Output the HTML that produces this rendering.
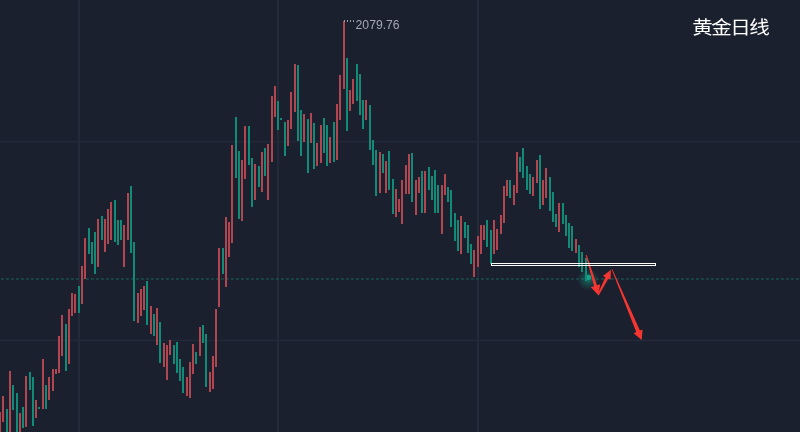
<!DOCTYPE html>
<html><head><meta charset="utf-8"><style>
html,body{margin:0;padding:0;background:#1b202f;}
body{width:800px;height:432px;overflow:hidden;position:relative;}
svg{position:absolute;left:0;top:0;}
.c{position:absolute;top:13px;width:19px;text-align:center;font-family:"Liberation Sans","Noto Sans CJK SC",sans-serif;font-size:18px;color:#ffffff;white-space:nowrap;transform:scaleX(1.14);transform-origin:50% 50%;}
</style></head><body>
<svg width="800" height="432" viewBox="0 0 800 432">
<defs><radialGradient id="glow"><stop offset="0" stop-color="#16a589" stop-opacity="0.6"/><stop offset="0.5" stop-color="#13967c" stop-opacity="0.28"/><stop offset="1" stop-color="#13967c" stop-opacity="0"/></radialGradient></defs>
<rect x="0" y="0" width="800" height="432" fill="#1b202f"/>
<g fill="#222a39">
<rect x="78" y="0" width="2" height="432"/>
<rect x="277" y="0" width="2" height="432"/>
<rect x="477" y="0" width="2" height="432"/>
<rect x="0" y="140.9" width="800" height="1.5"/>
<rect x="0" y="339.6" width="800" height="1.6"/>
</g>
<line x1="-4" y1="279" x2="800" y2="279" stroke="#18504b" stroke-width="1.6" stroke-dasharray="2.8 2.2"/>
<g shape-rendering="crispEdges">
<rect x="-1" y="412" width="2" height="21" fill="#b0464f"/>
<rect x="2" y="396" width="2" height="26" fill="#b0464f"/>
<rect x="6" y="409" width="2" height="24" fill="#118a77"/>
<rect x="9" y="371" width="2" height="62" fill="#b0464f"/>
<rect x="12" y="385" width="2" height="25" fill="#118a77"/>
<rect x="16" y="393" width="2" height="40" fill="#118a77"/>
<rect x="19" y="413" width="2" height="20" fill="#b0464f"/>
<rect x="22" y="407" width="2" height="21" fill="#118a77"/>
<rect x="25" y="376" width="2" height="51" fill="#b0464f"/>
<rect x="29" y="372" width="2" height="18" fill="#118a77"/>
<rect x="32" y="377" width="2" height="49" fill="#118a77"/>
<rect x="35" y="400" width="2" height="18" fill="#b0464f"/>
<rect x="38" y="407" width="2" height="2" fill="#118a77"/>
<rect x="42" y="359" width="2" height="50" fill="#b0464f"/>
<rect x="45" y="385" width="2" height="24" fill="#118a77"/>
<rect x="48" y="377" width="2" height="23" fill="#b0464f"/>
<rect x="52" y="369" width="2" height="22" fill="#b0464f"/>
<rect x="55" y="369" width="2" height="5" fill="#b0464f"/>
<rect x="58" y="336" width="2" height="37" fill="#b0464f"/>
<rect x="61" y="315" width="2" height="41" fill="#b0464f"/>
<rect x="65" y="324" width="2" height="47" fill="#118a77"/>
<rect x="68" y="309" width="2" height="55" fill="#b0464f"/>
<rect x="71" y="293" width="2" height="23" fill="#b0464f"/>
<rect x="74" y="294" width="2" height="19" fill="#b0464f"/>
<rect x="78" y="286" width="2" height="27" fill="#118a77"/>
<rect x="81" y="266" width="2" height="38" fill="#b0464f"/>
<rect x="84" y="238" width="2" height="41" fill="#b0464f"/>
<rect x="88" y="228" width="2" height="26" fill="#118a77"/>
<rect x="91" y="242" width="2" height="22" fill="#118a77"/>
<rect x="94" y="232" width="2" height="42" fill="#118a77"/>
<rect x="97" y="219" width="2" height="48" fill="#b0464f"/>
<rect x="101" y="216" width="2" height="24" fill="#118a77"/>
<rect x="104" y="219" width="2" height="33" fill="#b0464f"/>
<rect x="107" y="209" width="2" height="35" fill="#b0464f"/>
<rect x="110" y="202" width="2" height="38" fill="#b0464f"/>
<rect x="114" y="200" width="2" height="42" fill="#118a77"/>
<rect x="117" y="220" width="2" height="25" fill="#118a77"/>
<rect x="120" y="220" width="2" height="20" fill="#118a77"/>
<rect x="123" y="225" width="2" height="42" fill="#b0464f"/>
<rect x="127" y="193" width="2" height="47" fill="#b0464f"/>
<rect x="130" y="186" width="2" height="67" fill="#118a77"/>
<rect x="133" y="242" width="2" height="79" fill="#118a77"/>
<rect x="137" y="293" width="2" height="30" fill="#b0464f"/>
<rect x="140" y="289" width="2" height="27" fill="#b0464f"/>
<rect x="143" y="286" width="2" height="24" fill="#b0464f"/>
<rect x="146" y="281" width="2" height="44" fill="#118a77"/>
<rect x="150" y="306" width="2" height="28" fill="#b0464f"/>
<rect x="153" y="314" width="2" height="22" fill="#118a77"/>
<rect x="156" y="308" width="2" height="37" fill="#b0464f"/>
<rect x="159" y="322" width="2" height="41" fill="#118a77"/>
<rect x="163" y="343" width="2" height="24" fill="#b0464f"/>
<rect x="166" y="345" width="2" height="35" fill="#b0464f"/>
<rect x="169" y="340" width="2" height="15" fill="#b0464f"/>
<rect x="173" y="345" width="2" height="19" fill="#118a77"/>
<rect x="176" y="342" width="2" height="31" fill="#118a77"/>
<rect x="179" y="359" width="2" height="22" fill="#118a77"/>
<rect x="182" y="367" width="2" height="26" fill="#118a77"/>
<rect x="186" y="377" width="2" height="19" fill="#b0464f"/>
<rect x="189" y="362" width="2" height="36" fill="#b0464f"/>
<rect x="192" y="344" width="2" height="30" fill="#b0464f"/>
<rect x="195" y="352" width="2" height="12" fill="#118a77"/>
<rect x="199" y="327" width="2" height="29" fill="#b0464f"/>
<rect x="202" y="325" width="2" height="18" fill="#118a77"/>
<rect x="205" y="334" width="2" height="53" fill="#118a77"/>
<rect x="209" y="372" width="2" height="20" fill="#b0464f"/>
<rect x="212" y="356" width="2" height="33" fill="#b0464f"/>
<rect x="215" y="309" width="2" height="58" fill="#b0464f"/>
<rect x="218" y="248" width="2" height="59" fill="#b0464f"/>
<rect x="222" y="248" width="2" height="26" fill="#118a77"/>
<rect x="225" y="217" width="2" height="70" fill="#b0464f"/>
<rect x="228" y="222" width="2" height="35" fill="#b0464f"/>
<rect x="231" y="145" width="2" height="98" fill="#b0464f"/>
<rect x="235" y="117" width="2" height="61" fill="#118a77"/>
<rect x="238" y="151" width="2" height="68" fill="#118a77"/>
<rect x="241" y="160" width="2" height="61" fill="#b0464f"/>
<rect x="244" y="126" width="2" height="53" fill="#b0464f"/>
<rect x="248" y="126" width="2" height="39" fill="#118a77"/>
<rect x="251" y="158" width="2" height="49" fill="#118a77"/>
<rect x="254" y="164" width="2" height="36" fill="#b0464f"/>
<rect x="258" y="166" width="2" height="21" fill="#118a77"/>
<rect x="261" y="152" width="2" height="40" fill="#b0464f"/>
<rect x="264" y="148" width="2" height="28" fill="#118a77"/>
<rect x="267" y="144" width="2" height="56" fill="#b0464f"/>
<rect x="271" y="96" width="2" height="66" fill="#b0464f"/>
<rect x="274" y="86" width="2" height="31" fill="#b0464f"/>
<rect x="277" y="101" width="2" height="29" fill="#118a77"/>
<rect x="280" y="118" width="2" height="2" fill="#118a77"/>
<rect x="284" y="122" width="2" height="34" fill="#118a77"/>
<rect x="287" y="120" width="2" height="26" fill="#b0464f"/>
<rect x="290" y="92" width="2" height="37" fill="#b0464f"/>
<rect x="294" y="64" width="2" height="48" fill="#b0464f"/>
<rect x="297" y="65" width="2" height="76" fill="#118a77"/>
<rect x="300" y="110" width="2" height="46" fill="#118a77"/>
<rect x="303" y="114" width="2" height="28" fill="#b0464f"/>
<rect x="307" y="119" width="2" height="54" fill="#118a77"/>
<rect x="310" y="113" width="2" height="30" fill="#b0464f"/>
<rect x="313" y="123" width="2" height="46" fill="#118a77"/>
<rect x="316" y="143" width="2" height="23" fill="#b0464f"/>
<rect x="320" y="125" width="2" height="38" fill="#b0464f"/>
<rect x="323" y="118" width="2" height="35" fill="#118a77"/>
<rect x="326" y="125" width="2" height="41" fill="#118a77"/>
<rect x="329" y="137" width="2" height="26" fill="#b0464f"/>
<rect x="333" y="122" width="2" height="40" fill="#118a77"/>
<rect x="336" y="104" width="2" height="56" fill="#b0464f"/>
<rect x="339" y="75" width="2" height="45" fill="#b0464f"/>
<rect x="343" y="21" width="2" height="68" fill="#b0464f"/>
<rect x="346" y="58" width="2" height="73" fill="#118a77"/>
<rect x="349" y="90" width="2" height="21" fill="#b0464f"/>
<rect x="352" y="79" width="2" height="25" fill="#b0464f"/>
<rect x="356" y="64" width="2" height="37" fill="#118a77"/>
<rect x="359" y="74" width="2" height="41" fill="#118a77"/>
<rect x="362" y="100" width="2" height="29" fill="#118a77"/>
<rect x="365" y="100" width="2" height="20" fill="#b0464f"/>
<rect x="369" y="105" width="2" height="45" fill="#118a77"/>
<rect x="372" y="140" width="2" height="25" fill="#118a77"/>
<rect x="375" y="150" width="2" height="46" fill="#118a77"/>
<rect x="379" y="152" width="2" height="41" fill="#b0464f"/>
<rect x="382" y="154" width="2" height="19" fill="#118a77"/>
<rect x="385" y="161" width="2" height="32" fill="#b0464f"/>
<rect x="388" y="151" width="2" height="39" fill="#118a77"/>
<rect x="392" y="179" width="2" height="35" fill="#118a77"/>
<rect x="395" y="189" width="2" height="28" fill="#b0464f"/>
<rect x="398" y="199" width="2" height="13" fill="#b0464f"/>
<rect x="401" y="180" width="2" height="44" fill="#b0464f"/>
<rect x="405" y="165" width="2" height="29" fill="#b0464f"/>
<rect x="408" y="154" width="2" height="40" fill="#b0464f"/>
<rect x="411" y="153" width="2" height="49" fill="#118a77"/>
<rect x="415" y="180" width="2" height="35" fill="#b0464f"/>
<rect x="418" y="177" width="2" height="16" fill="#b0464f"/>
<rect x="421" y="171" width="2" height="42" fill="#118a77"/>
<rect x="424" y="171" width="2" height="42" fill="#b0464f"/>
<rect x="428" y="167" width="2" height="23" fill="#118a77"/>
<rect x="431" y="176" width="2" height="24" fill="#118a77"/>
<rect x="434" y="170" width="2" height="43" fill="#118a77"/>
<rect x="437" y="185" width="2" height="28" fill="#118a77"/>
<rect x="441" y="185" width="2" height="49" fill="#b0464f"/>
<rect x="444" y="174" width="2" height="21" fill="#b0464f"/>
<rect x="447" y="187" width="2" height="15" fill="#118a77"/>
<rect x="450" y="190" width="2" height="37" fill="#118a77"/>
<rect x="454" y="213" width="2" height="28" fill="#118a77"/>
<rect x="457" y="220" width="2" height="31" fill="#118a77"/>
<rect x="460" y="216" width="2" height="38" fill="#b0464f"/>
<rect x="464" y="222" width="2" height="16" fill="#118a77"/>
<rect x="467" y="225" width="2" height="28" fill="#118a77"/>
<rect x="470" y="244" width="2" height="20" fill="#118a77"/>
<rect x="473" y="250" width="2" height="27" fill="#b0464f"/>
<rect x="477" y="236" width="2" height="31" fill="#b0464f"/>
<rect x="480" y="225" width="2" height="29" fill="#b0464f"/>
<rect x="483" y="225" width="2" height="15" fill="#b0464f"/>
<rect x="486" y="220" width="2" height="27" fill="#118a77"/>
<rect x="490" y="230" width="2" height="34" fill="#118a77"/>
<rect x="493" y="220" width="2" height="34" fill="#b0464f"/>
<rect x="496" y="229" width="2" height="21" fill="#b0464f"/>
<rect x="500" y="215" width="2" height="19" fill="#b0464f"/>
<rect x="503" y="186" width="2" height="37" fill="#b0464f"/>
<rect x="506" y="180" width="2" height="16" fill="#b0464f"/>
<rect x="509" y="180" width="2" height="18" fill="#118a77"/>
<rect x="513" y="185" width="2" height="20" fill="#b0464f"/>
<rect x="516" y="152" width="2" height="41" fill="#b0464f"/>
<rect x="519" y="157" width="2" height="15" fill="#118a77"/>
<rect x="522" y="148" width="2" height="30" fill="#118a77"/>
<rect x="526" y="166" width="2" height="24" fill="#118a77"/>
<rect x="529" y="174" width="2" height="20" fill="#118a77"/>
<rect x="532" y="177" width="2" height="19" fill="#b0464f"/>
<rect x="536" y="160" width="2" height="23" fill="#b0464f"/>
<rect x="539" y="155" width="2" height="54" fill="#118a77"/>
<rect x="542" y="180" width="2" height="25" fill="#b0464f"/>
<rect x="545" y="168" width="2" height="30" fill="#b0464f"/>
<rect x="549" y="177" width="2" height="34" fill="#118a77"/>
<rect x="552" y="192" width="2" height="30" fill="#118a77"/>
<rect x="555" y="214" width="2" height="13" fill="#118a77"/>
<rect x="558" y="203" width="2" height="29" fill="#b0464f"/>
<rect x="562" y="203" width="2" height="21" fill="#118a77"/>
<rect x="565" y="215" width="2" height="21" fill="#118a77"/>
<rect x="568" y="223" width="2" height="25" fill="#118a77"/>
<rect x="571" y="226" width="2" height="25" fill="#118a77"/>
<rect x="575" y="239" width="2" height="14" fill="#b0464f"/>
<rect x="578" y="245" width="2" height="22" fill="#118a77"/>
<rect x="581" y="252" width="2" height="20" fill="#118a77"/>
<rect x="585" y="258" width="2" height="19" fill="#118a77"/>
</g>
<circle cx="588" cy="279.5" r="11" fill="url(#glow)"/>
<circle cx="588.2" cy="277.5" r="2.8" fill="#15a487"/>
<rect x="585" y="270" width="2" height="10.5" fill="#118a77" shape-rendering="crispEdges"/>
<g fill="#f5352f">
<polygon points="585.72,255.25 594.06,286.17 590.81,287.15 598.40,295.30 600.18,284.31 596.93,285.30 586.68,254.95"/>
<polygon points="598.83,295.22 608.19,278.64 610.60,279.85 610.90,269.70 602.92,275.98 605.33,277.20 597.57,294.58"/>
<polygon points="611.63,269.46 636.25,332.10 633.62,333.21 641.70,339.90 642.56,329.45 639.94,330.55 612.37,269.14"/>
</g>
<rect x="491.5" y="263.5" width="164" height="2" fill="none" stroke="#ffffff" stroke-width="1" shape-rendering="crispEdges"/>
<g fill="#979ca7" shape-rendering="crispEdges">
<rect x="344" y="20" width="1" height="2"/><rect x="347" y="20" width="1" height="2"/><rect x="350" y="20" width="1" height="2"/><rect x="353" y="20" width="1" height="2"/>
</g>
<text x="355.6" y="29" font-family="Liberation Sans, sans-serif" font-size="12.2" fill="#a3a7b1">2079.76</text>
</svg>
<span class="c" style="left:693.0px">黄</span><span class="c" style="left:712.0px">金</span><span class="c" style="left:731.0px">日</span><span class="c" style="left:749.9px">线</span>
</body></html>
